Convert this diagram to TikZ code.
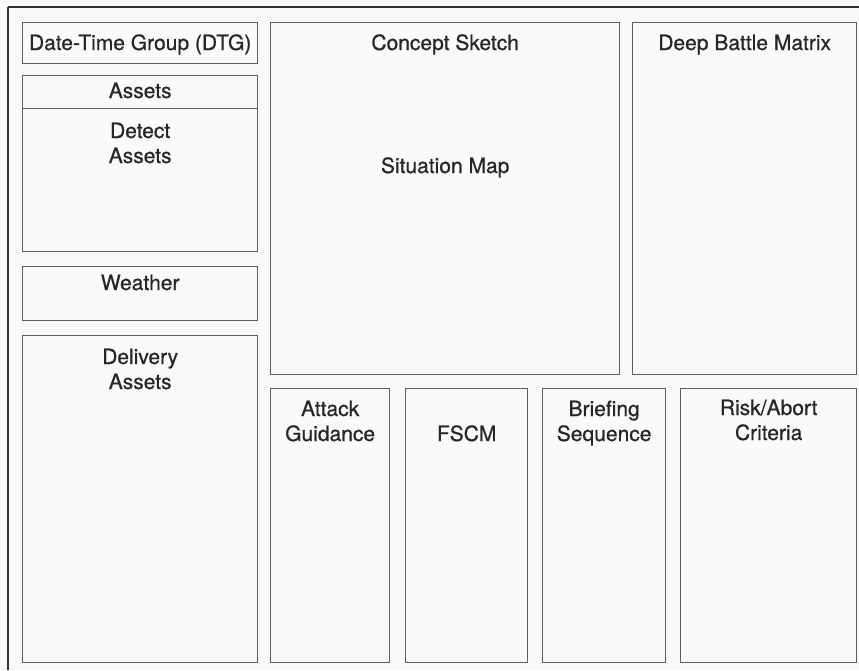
\documentclass[tikz,border=0pt]{standalone}
\usepackage{fontspec}
\setmainfont{TeX Gyre Heros}[FakeBold=0.7]
\definecolor{boxgray}{HTML}{5E5E5E}
\definecolor{txtgray}{HTML}{262626}
\definecolor{paper}{HTML}{FAFAFA}
\definecolor{framegray}{HTML}{333333}
\begin{document}
\begin{tikzpicture}[x=1pt,y=-1pt,
  box/.style={draw=boxgray, line width=1.35pt, rectangle, inner sep=0pt, anchor=north west},
  lbl/.style={font=\fontsize{21}{25}\selectfont, text=txtgray, inner sep=0pt, anchor=base, align=center}]
\fill[paper] (0,0) rectangle (859,670);
\useasboundingbox (0,0) rectangle (859,670);
% outer frame
\coordinate (fbl) at (8,670);
\coordinate (ftl) at (8,7);
\coordinate (ftr) at (859,7);
\draw[framegray, line width=2.4pt] (fbl) -- (ftl);
\draw[framegray, line width=1.6pt] (ftl) -- (ftr);
% left column
\node[box, minimum width=235pt, minimum height=41pt] (dtg) at (22,22) {};
\node[box, minimum width=235pt, minimum height=33pt] (ahead) at (22,75) {};
\node[box, minimum width=235pt, minimum height=143pt] (detect) at (22,108) {};
\node[box, minimum width=235pt, minimum height=54pt] (weather) at (22,266) {};
\node[box, minimum width=235pt, minimum height=327pt] (delivery) at (22,335) {};
% top right
\node[box, minimum width=349pt, minimum height=352pt] (concept) at (270,22) {};
\node[box, minimum width=224pt, minimum height=352pt] (dbm) at (632,22) {};
% bottom row
\node[box, minimum width=119pt, minimum height=274pt] (attack) at (270,388) {};
\node[box, minimum width=122pt, minimum height=274pt] (fscm) at (405,388) {};
\node[box, minimum width=123pt, minimum height=274pt] (brief) at (542,388) {};
\node[box, minimum width=176pt, minimum height=274pt] (risk) at (680,388) {};
% labels (multi-line nodes: base = last line)
\node[lbl] (tdtg) at (dtg.north |- 0,50) {Date-Time Group (DTG)};
\node[lbl] (tahead) at (ahead.north |- 0,98) {Assets};
\node[lbl] (tdetect) at (detect.north |- 0,163) {Detect\\Assets};
\node[lbl] (tweather) at (weather.north |- 0,290) {Weather};
\node[lbl] (tdelivery) at (delivery.north |- 0,389) {Delivery\\Assets};
\node[lbl] (tconcept) at (concept.north |- 0,50) {Concept Sketch};
\node[lbl] (tsitmap) at (concept.north |- 0,173) {Situation Map};
\node[lbl] (tdbm) at (dbm.north |- 0,50) {Deep Battle Matrix};
\node[lbl] (tattack) at (attack.north |- 0,441) {Attack\\Guidance};
\node[lbl] (tfscm) at (fscm.north |- 0,441) {FSCM};
\node[lbl] (tbrief) at (brief.north |- 0,441) {Briefing\\Sequence};
\node[lbl] (trisk) at (risk.north |- 0,440) {Risk/Abort\\Criteria};
\end{tikzpicture}
\end{document}
